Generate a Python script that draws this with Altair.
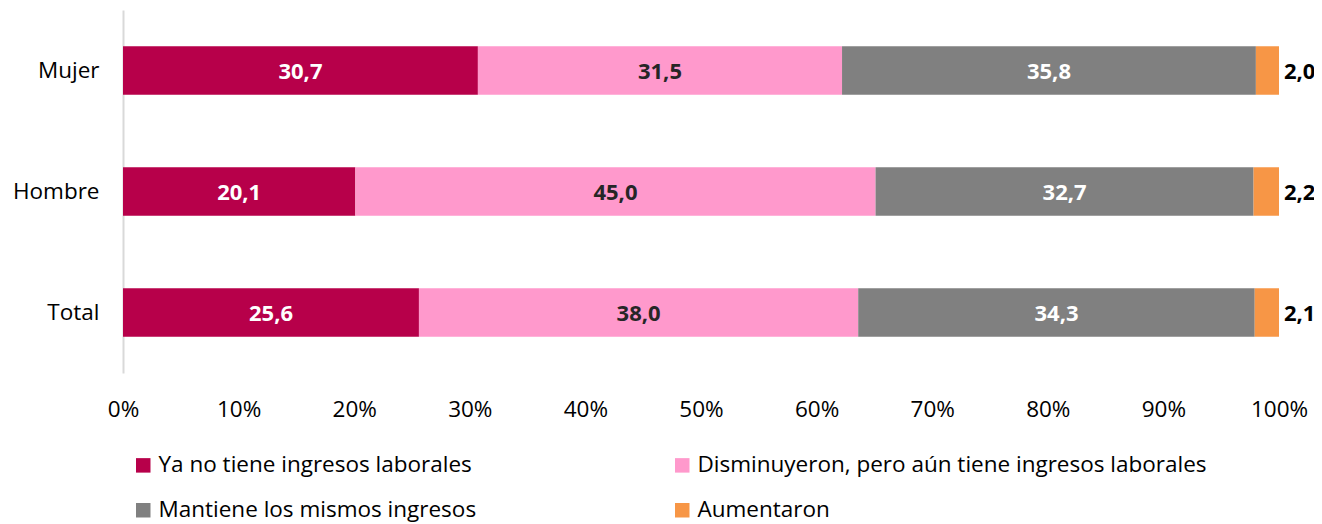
import altair as alt
import pandas as pd

categories = ["Mujer", "Hombre", "Total"]
series = [
    "Ya no tiene ingresos laborales",
    "Disminuyeron, pero aún tiene ingresos laborales",
    "Mantiene los mismos ingresos",
    "Aumentaron",
]
colors = ["#B7004A", "#FF99CC", "#808080", "#F79646"]
label_colors = ["#FFFFFF", "#262626", "#FFFFFF", "#000000"]
values = {
    "Ya no tiene ingresos laborales": [30.7, 20.1, 25.6],
    "Disminuyeron, pero aún tiene ingresos laborales": [31.5, 45.0, 38.0],
    "Mantiene los mismos ingresos": [35.8, 32.7, 34.3],
    "Aumentaron": [2.0, 2.2, 2.1],
}

rows = []
for si, s in enumerate(series):
    for ci, c in enumerate(categories):
        v = values[s][ci]
        rows.append({
            "cat": c, "serie": s, "order": si, "value": v,
            "label": f"{v:.1f}".replace(".", ","),
            "lcolor": label_colors[si],
        })
df = pd.DataFrame(rows)

FONT = "Open Sans"
FS = 22.5
VFS = 22

base = alt.Chart(df).transform_stack(
    stack="value", groupby=["cat"], as_=["x0", "x1"],
    sort=[alt.SortField("order", order="ascending")],
).transform_calculate(
    mid="(datum.x0 + datum.x1) / 2"
)

y_enc = alt.Y("cat:N", sort=categories, title=None,
              scale=alt.Scale(paddingInner=0.6, paddingOuter=0.3),
              axis=alt.Axis(labelFontSize=FS, labelFont=FONT, labelColor="#000000",
                            ticks=False, domainColor="#D9D9D9", domainWidth=2,
                            labelPadding=24, labelBaseline="middle"))

bars = base.mark_bar().encode(
    y=y_enc,
    x=alt.X("x0:Q", title=None,
            scale=alt.Scale(domain=[0, 100], nice=False),
            axis=alt.Axis(values=list(range(0, 101, 10)),
                          labelExpr="datum.value + '%'",
                          labelFontSize=FS, labelFont=FONT, labelColor="#000000",
                          labelFlush=False, labelOverlap=False,
                          domain=False, ticks=False, grid=False,
                          labelPadding=25)),
    x2="x1:Q",
    color=alt.Color("serie:N", sort=series,
                    scale=alt.Scale(domain=series, range=colors),
                    legend=alt.Legend(title=None, orient="none", legendX=9, legendY=444,
                                      columns=2, direction="horizontal",
                                      symbolType="square", symbolSize=210,
                                      symbolStrokeWidth=0,
                                      labelFontSize=FS, labelFont=FONT,
                                      labelColor="#000000", labelLimit=700,
                                      columnPadding=194, rowPadding=22,
                                      labelOffset=4)),
)

inner = base.transform_filter("datum.order < 3").mark_text(
    fontSize=VFS, fontWeight="bold", font=FONT, dy=1
).encode(
    y=alt.Y("cat:N", sort=categories),
    x=alt.X("mid:Q"),
    text="label:N",
    color=alt.Color("lcolor:N", scale=None),
)

outer = base.transform_filter("datum.order == 3").mark_text(
    fontSize=VFS, fontWeight="bold", font=FONT, align="left", dx=5, dy=1
).encode(
    y=alt.Y("cat:N", sort=categories),
    x=alt.X("x1:Q"),
    text="label:N",
    color=alt.value("#000000"),
)

chart = alt.layer(bars, inner, outer).properties(
    width=1156, height=363,
    autosize=alt.AutoSizeParams(type="none"),
    padding={"left": 115, "top": 2, "right": 35, "bottom": 150},
).configure_view(stroke=None)

chart.save("out.html", embed_options={"renderer": "svg", "actions": False})
